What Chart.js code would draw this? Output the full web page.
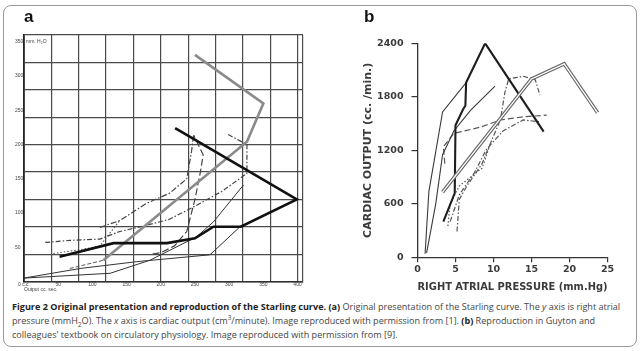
<!DOCTYPE html>
<html>
<head>
<meta charset="utf-8">
<script src="https://cdn.jsdelivr.net/npm/chart.js@4.4.1/dist/chart.umd.min.js"></script>
<style>
html,body{margin:0;padding:0;background:#fff}
body{width:640px;height:351px;position:relative;overflow:hidden;font-family:"Open Sans",sans-serif}
#frame{position:absolute;left:3px;top:5px;width:632px;height:340px;border:1px solid #9a9a9a;border-radius:8px}
.box{position:absolute;top:0;width:320px;height:300px}
#boxA{left:0}
#boxB{left:320px}
.tag{position:absolute;top:8px;font:bold 17px/17px "Liberation Sans",Arial,sans-serif;color:#111}
#cap{position:absolute;left:12px;top:300px;font-size:8.3px;line-height:14px;color:#444;white-space:nowrap}
#cap b{color:#222}
#cap sub,#cap sup{font-size:70%;line-height:0}
</style>
</head>
<body>
<div id="frame"></div>
<div class="box" id="boxA"><canvas id="chartA"></canvas></div>
<div class="box" id="boxB"><canvas id="chartB"></canvas></div>
<div class="tag" style="left:24px">a</div>
<div class="tag" style="left:364px">b</div>
<div id="cap">
<div id="l1"><b>Figure 2 Original presentation and reproduction of the Starling curve. (a)</b> Original presentation of the Starling curve. The <i>y</i> axis is right atrial</div>
<div>pressure (mmH<sub>2</sub>O). The <i>x</i> axis is cardiac output (cm<sup>3</sup>/minute). Image reproduced with permission from [1]. <b>(b)</b> Reproduction in Guyton and</div>
<div>colleagues' textbook on circulatory physiology. Image reproduced with permission from [9].</div>
</div>
<script>
// panel a: output (cc) vs right atrial pressure (mm H2O)
const aXTicks=[0,50,100,150,200,250,300,350,400];
const aYTicks=[50,100,150,200,250,300,350];
const aYUnitTick=[350];
const aXGrid=[0,40,80,120,160,200,240,280,320,360,400,408];
const aYGrid=[0,40,80,120,160,200,240,280,320,360];
const aGray=[[116,31],[326,204],[350,260],[250,331]];
const aGrayTail=[[67,19],[116,31]];
const aBlack=[[52,36],[131,56],[209,56],[250,63],[277,80],[317,80],[399,120],[221,224]];
const aThin1=[[0,5],[126,12],[184,31],[252,65],[277,87],[321,141]];
const aThin2=[[0,5],[82,19],[165,29],[272,39],[318,82]];
const aDashDot1=[[111,79],[140,89],[179,114],[213,129],[238,150],[245,190],[248,214]];
const aDashed=[[188,40],[200,42],[220,52],[238,73],[250,120],[258,160],[262,185],[248,214]];
const aDashDot2=[[31,57],[67,60],[111,62],[140,73],[179,82],[213,91],[250,110],[290,132],[326,158],[326,200],[296,216]];
const aDotted=[[43,41],[80,46],[111,52],[125,70],[140,89]];

// panel b: cardiac output (cc/min) vs right atrial pressure (mm Hg)
const bThick=[[3.4,400],[4.9,720],[5.0,1480],[6.0,1660],[6.3,1700],[6.4,1960],[8.9,2400],[16.6,1410]];
const bThin1=[[1.0,40],[1.5,740],[3.3,1630],[6.4,1960]];
const bThin2=[[1.2,50],[2.4,600],[3.3,1150],[4.8,1420],[7.0,1650],[10.2,1920]];
const bDouble=[[3.3,730],[15,2000],[19.3,2170],[23.7,1620]];
const bDashed=[[3.6,1050],[3.4,1240],[4.8,1390],[8.3,1460],[10.9,1540],[13.9,1575],[17,1595]];
const bDashDot1=[[5.2,290],[5.5,650],[6.5,800],[8.5,1050],[9.7,1300],[10.9,1540],[11.5,1850],[12,2000],[13.9,2030],[15.5,1990],[16.1,1820]];
const bDashDot2=[[4.3,400],[5.5,700],[7.5,950],[9,1200],[10,1300],[11.3,1420],[13.9,1540],[16.1,1520]];
const bDotted=[[4.0,350],[4.3,600],[5.5,800],[7,900],[8.5,1000],[9.5,1250]];

Chart.defaults.font.family='DejaVu Sans';
const pts=a=>a.map(p=>({x:p[0],y:p[1]}));
const ln=(d,c,w,dash)=>({data:pts(d),borderColor:c,borderWidth:w,borderDash:dash||[],pointRadius:0,tension:0,fill:false});
const setTicks=arr=>s=>{s.ticks=arr.map(v=>({value:v}))};
const aFont={family:'Liberation Sans',size:5};

new Chart(chartA,{type:'line',
 data:{datasets:[
  ln(aBlack,'#111',2.6),
  ln(aGray,'#8a8a8a',2.6),
  ln(aGrayTail,'#555',1,[4,2]),
  ln(aThin1,'#333',1),
  ln(aThin2,'#333',1),
  ln(aDashDot1,'#444',1.2,[6,2,1.5,2]),
  ln(aDashed,'#444',1.2,[7,3]),
  ln(aDashDot2,'#444',1.2,[5,2,1.5,2]),
  ln(aDotted,'#555',1.1,[1.5,2])
 ]},
 options:{responsive:true,maintainAspectRatio:false,animation:false,
  layout:{padding:{left:15,top:35,right:17,bottom:7}},
  plugins:{legend:{display:false},tooltip:{enabled:false}},
  scales:{
   x:{type:'linear',position:'bottom',weight:1,min:0,max:408,afterBuildTicks:setTicks(aXTicks),
      ticks:{autoSkip:false,maxRotation:0,padding:0,color:'#444',font:aFont,callback:v=>v===0?'0 c.c.':String(v)},
      grid:{display:false,drawTicks:false},border:{display:false},
      title:{display:true,text:'Output cc. sec.',align:'start',padding:0,color:'#444',font:aFont},
      afterFit:s=>{s.height=11.5}},
   xg:{type:'linear',position:'bottom',weight:0,min:0,max:408,afterBuildTicks:setTicks(aXGrid),
      ticks:{display:false},grid:{color:'#4a4a4a',lineWidth:1.2,drawTicks:false},border:{color:'#333',width:1.5},
      afterFit:s=>{s.height=0}},
   y:{type:'linear',position:'left',weight:2,min:0,max:360,afterBuildTicks:setTicks(aYTicks),
      ticks:{autoSkip:false,crossAlign:'far',color:'#444',font:aFont,callback:v=>String(v)},
      grid:{display:false,drawTicks:false},border:{display:false},afterFit:s=>{s.width=9}},
   yu:{type:'linear',position:'left',weight:-1,min:0,max:360,afterBuildTicks:setTicks(aYUnitTick),
      ticks:{mirror:true,padding:2,color:'#444',font:aFont,callback:()=>'mm. H\u2082O'},
      grid:{display:false,drawTicks:false},border:{display:false},afterFit:s=>{s.width=0}},
   yg:{type:'linear',position:'left',weight:0,min:0,max:360,afterBuildTicks:setTicks(aYGrid),
      ticks:{display:false},grid:{color:'#4a4a4a',lineWidth:1.2,drawTicks:false},border:{color:'#222',width:1.8},
      afterFit:s=>{s.width=0}}
  }}});

const bFont={family:'DejaVu Sans',weight:'bold',size:9.5};
const tFont={family:'DejaVu Sans',weight:'bold',size:11};
new Chart(chartB,{type:'line',
 data:{datasets:[
  ln(bDouble,'#fff',1.3),
  ln(bDouble,'#6a6a6a',3.6),
  ln(bThick,'#1e1e1e',2.1),
  ln(bThin1,'#3a3a3a',1.1),
  ln(bThin2,'#3a3a3a',1.1),
  ln(bDashed,'#555',1.2,[6,3]),
  ln(bDashDot1,'#555',1.2,[5,2,1.5,2]),
  ln(bDashDot2,'#555',1.2,[5,2,1.5,2]),
  ln(bDotted,'#555',1.2,[1.5,2])
 ]},
 options:{responsive:true,maintainAspectRatio:false,animation:false,
  layout:{padding:{left:41.4,top:43.3,right:32.5,bottom:6.4}},
  plugins:{legend:{display:false},tooltip:{enabled:false}},
  scales:{
   x:{type:'linear',min:0,max:25,ticks:{stepSize:5,padding:2,color:'#3a3a3a',font:bFont,callback:v=>String(v)},
      grid:{drawOnChartArea:false,tickLength:5,color:'#333',lineWidth:1.2},border:{color:'#333',width:1.3},
      title:{display:true,text:'RIGHT ATRIAL PRESSURE (mm.Hg)',padding:0,color:'#3a3a3a',font:tFont},
      afterFit:s=>{s.height=36.3}},
   y:{type:'linear',min:0,max:2400,ticks:{stepSize:600,padding:8,color:'#3a3a3a',font:bFont,callback:v=>String(v)},
      grid:{drawOnChartArea:false,tickLength:6,color:'#333',lineWidth:1.2},border:{color:'#333',width:1.3},
      title:{display:true,text:'CARDIAC OUTPUT (cc. /min.)',padding:0,color:'#3a3a3a',font:tFont},
      afterFit:s=>{s.width=56.1}}
  }}});

// fit the first caption line to the frame width
const l1=document.getElementById('l1');
const w=l1.getBoundingClientRect().width;
document.getElementById('cap').style.fontSize=(8.3*609/w)+'px';
</script>
</body>
</html>
